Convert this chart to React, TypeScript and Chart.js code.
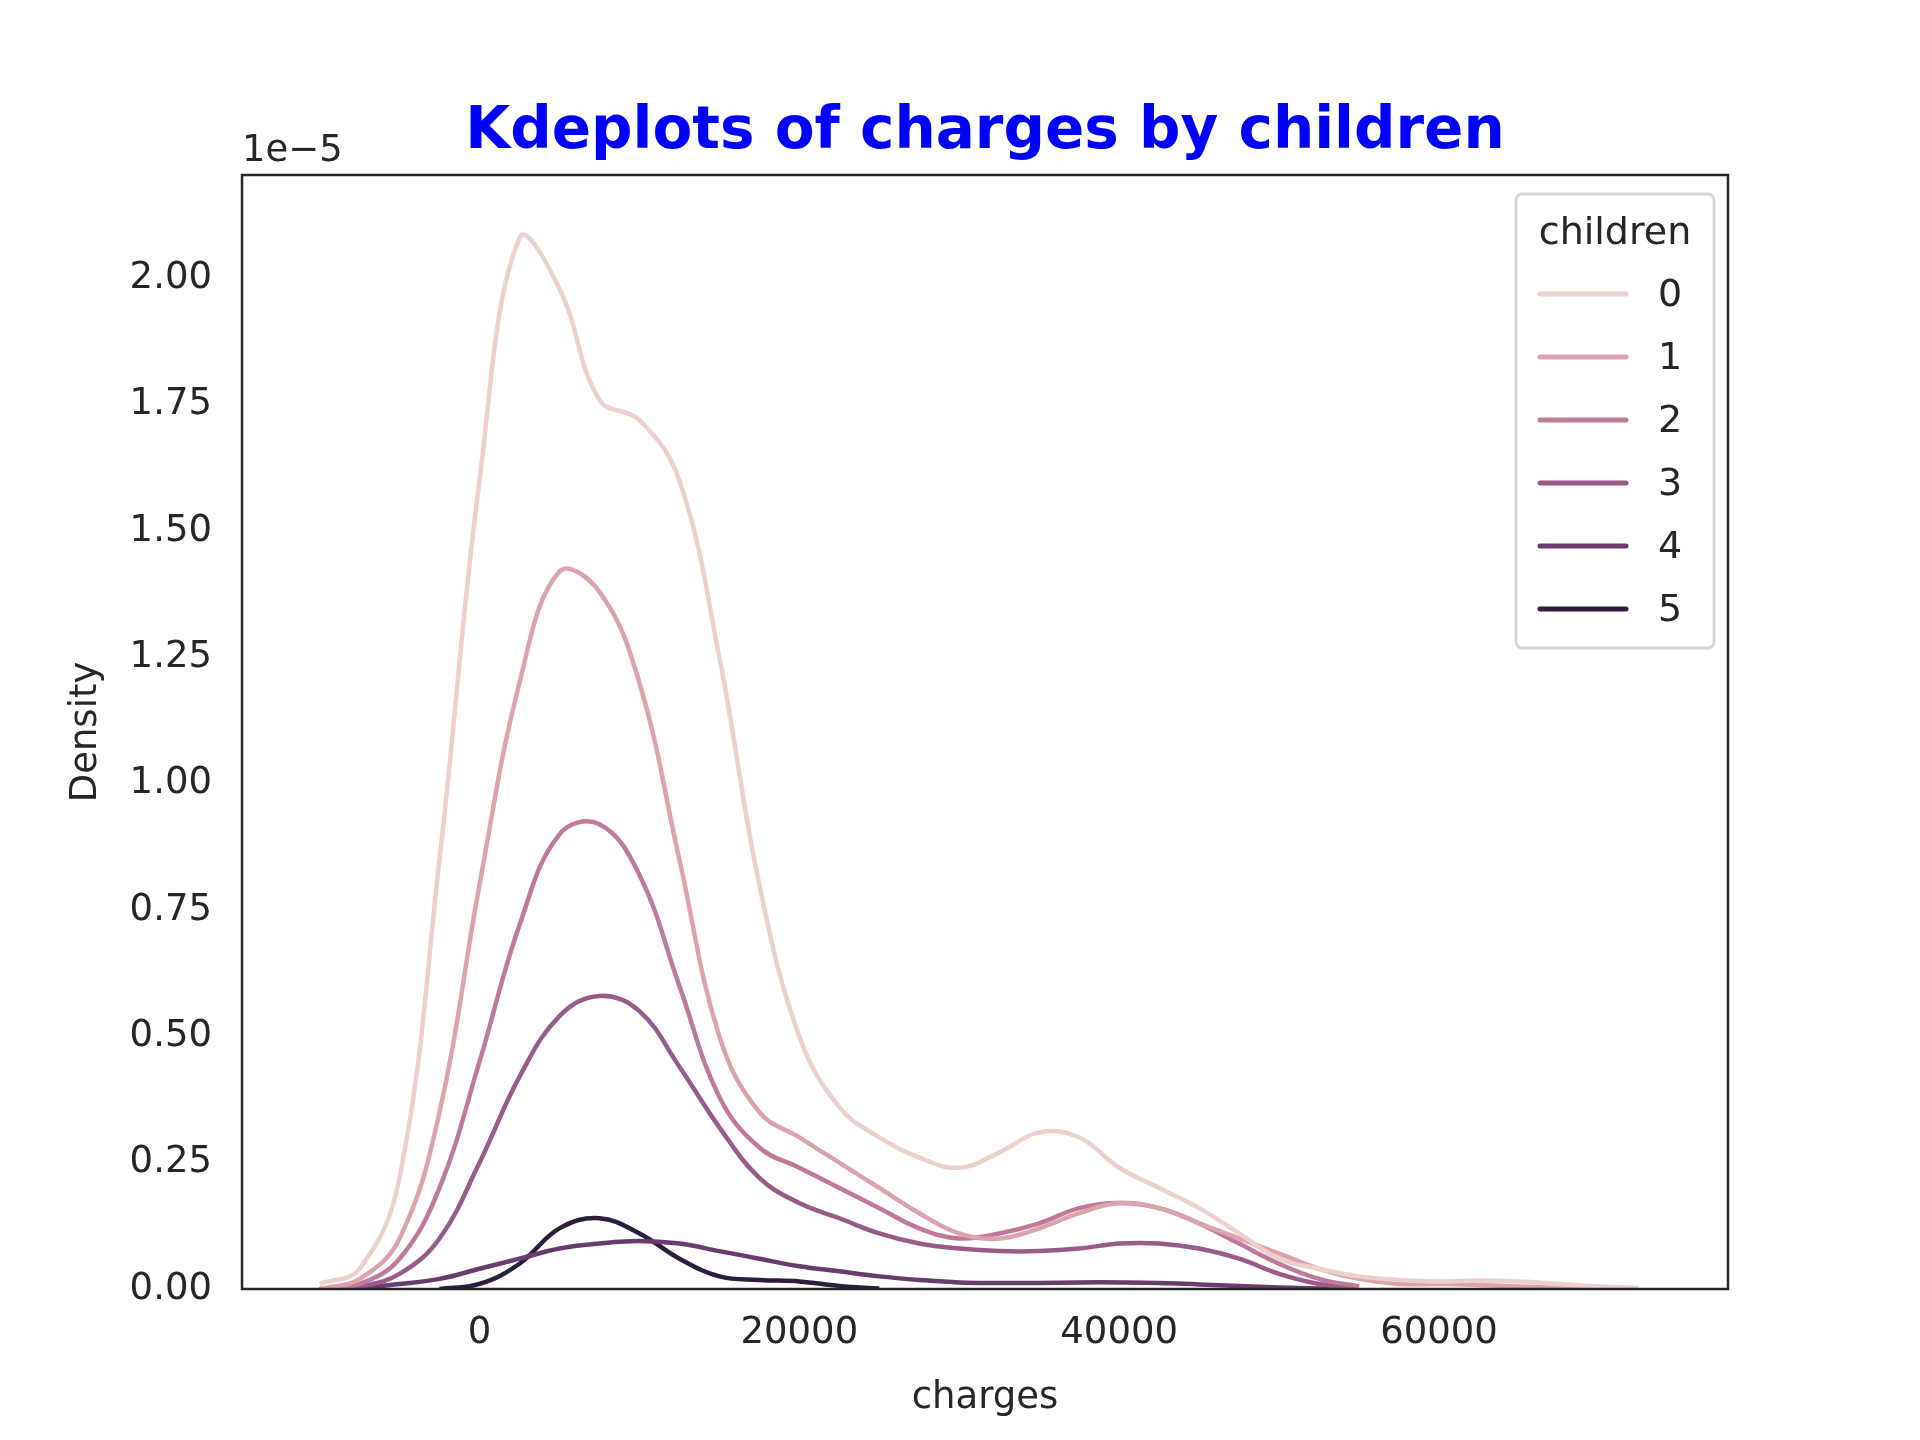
import { useEffect, useRef } from "react"
import { Chart, registerables } from "chart.js"

Chart.register(...registerables)

const CHARGES = [-10000, -7500, -5000, -2500, 0, 2500, 5000, 7500, 10000, 12500, 15000, 17500, 20000, 22500, 25000, 27500, 30000, 32500, 35000, 37500, 40000, 42500, 45000, 47500, 50000, 52500, 55000, 57500, 60000, 62500, 65000, 67500, 70000, 72500]

const KIDS0 = [0.01, 0.04, 0.22, 0.85, 1.6, 2.08, 1.98, 1.76, 1.72, 1.6, 1.25, 0.8, 0.5, 0.36, 0.3, 0.26, 0.24, 0.27, 0.31, 0.3, 0.24, 0.2, 0.16, 0.11, 0.06, 0.04, 0.025, 0.018, 0.015, 0.017, 0.015, 0.01, 0.005, 0.002]
const KIDS1 = [0.0, 0.02, 0.1, 0.35, 0.8, 1.2, 1.42, 1.38, 1.2, 0.85, 0.5, 0.35, 0.3, 0.25, 0.2, 0.15, 0.11, 0.1, 0.12, 0.15, 0.17, 0.16, 0.13, 0.1, 0.07, 0.04, 0.02, 0.01, 0.01, 0.008, 0.005, 0.002, 0.001, 0]
const KIDS2 = [0, 0.01, 0.06, 0.2, 0.45, 0.72, 0.9, 0.92, 0.82, 0.6, 0.38, 0.28, 0.24, 0.2, 0.16, 0.12, 0.1, 0.11, 0.13, 0.16, 0.17, 0.16, 0.13, 0.09, 0.05, 0.02, 0.005, null, null, null, null, null, null, null]
const KIDS3 = [0, 0.005, 0.03, 0.1, 0.25, 0.42, 0.54, 0.58, 0.55, 0.44, 0.32, 0.22, 0.17, 0.14, 0.11, 0.09, 0.08, 0.075, 0.075, 0.08, 0.09, 0.09, 0.08, 0.06, 0.03, 0.01, 0.002, null, null, null, null, null, null, null]
const KIDS4 = [null, 0.002, 0.01, 0.02, 0.04, 0.06, 0.08, 0.09, 0.095, 0.09, 0.075, 0.06, 0.045, 0.035, 0.025, 0.018, 0.013, 0.012, 0.012, 0.013, 0.013, 0.012, 0.009, 0.006, 0.003, 0.001, 0, null, null, null, null, null, null, null]
const KIDS5 = [null, null, null, 0, 0.01, 0.05, 0.12, 0.14, 0.11, 0.06, 0.025, 0.018, 0.015, 0.006, 0.001, null, null, null, null, null, null, null, null, null, null, null, null, null, null, null, null, null, null, null]

const SERIES = [KIDS0, KIDS1, KIDS2, KIDS3, KIDS4, KIDS5]
const LABELS = ["0", "1", "2", "3", "4", "5"]
const COLORS = ["#ecd0cb", "#dca3ad", "#c0799a", "#985b8a", "#6a3b6e", "#2d1e3e"]
const X_TICKS = [0, 20000, 40000, 60000]
const Y_TICKS = [0, 0.25, 0.5, 0.75, 1.0, 1.25, 1.5, 1.75, 2.0]

const FONT = "'DejaVu Sans', sans-serif"
const TEXT = "#262626"

const decor = {
  id: "decor",
  afterDraw(chart: Chart) {
    const { ctx, chartArea: a } = chart
    ctx.save()
    ctx.strokeStyle = TEXT
    ctx.lineWidth = 2.5
    ctx.strokeRect(a.left, a.top, a.right - a.left, a.bottom - a.top)

    ctx.fillStyle = "#0000ff"
    ctx.font = `bold 58px ${FONT}`
    ctx.textAlign = "center"
    ctx.textBaseline = "alphabetic"
    ctx.fillText("Kdeplots of charges by children", (a.left + a.right) / 2, 148)

    ctx.fillStyle = TEXT
    ctx.font = `37px ${FONT}`
    ctx.textAlign = "left"
    ctx.fillText("1e\u22125", a.left, 161)

    ctx.textAlign = "center"
    ctx.fillText("charges", (a.left + a.right) / 2, 1408)
    ctx.save()
    ctx.translate(96, (a.top + a.bottom) / 2)
    ctx.rotate(-Math.PI / 2)
    ctx.fillText("Density", 0, 0)
    ctx.restore()

    // legend box
    const bx = 1516, by = 194, bw = 198, bh = 454
    ctx.strokeStyle = "#d6d6d6"
    ctx.lineWidth = 3
    ctx.fillStyle = "rgba(255,255,255,0.8)"
    ctx.beginPath()
    ctx.roundRect(bx, by, bw, bh, 6)
    ctx.fill()
    ctx.stroke()
    ctx.fillStyle = TEXT
    ctx.textAlign = "center"
    ctx.font = `38px ${FONT}`
    ctx.fillText("children", bx + bw / 2, by + 50)
    LABELS.forEach((lab, i) => {
      const y = by + 100 + i * 63
      ctx.strokeStyle = COLORS[i]
      ctx.lineWidth = 5
      ctx.lineCap = "round"
      ctx.beginPath()
      ctx.moveTo(bx + 24, y)
      ctx.lineTo(bx + 110, y)
      ctx.stroke()
      ctx.fillStyle = TEXT
      ctx.textAlign = "left"
      ctx.textBaseline = "middle"
      ctx.fillText(lab, bx + 142, y + 2)
    })
    ctx.restore()
  },
}

export default function App() {
  const canvasRef = useRef<HTMLCanvasElement>(null)

  useEffect(() => {
    document.body.style.margin = "0"
    if (!canvasRef.current) return
    const chart = new Chart(canvasRef.current, {
      type: "line",
      data: {
        datasets: SERIES.map((vals, i) => ({
          label: LABELS[i],
          data: CHARGES.map((x, j) => ({ x, y: vals[j] })),
          borderColor: COLORS[i],
          borderWidth: 4.5,
          pointRadius: 0,
          tension: 0.4,
          fill: false,
          spanGaps: false,
        })),
      },
      options: {
        animation: false,
        responsive: false,
        devicePixelRatio: 1,
        layout: { padding: { top: 175, right: 192, left: 0, bottom: 0 } },
        plugins: { legend: { display: false }, tooltip: { enabled: false } },
        scales: {
          x: {
            type: "linear",
            min: -14850,
            max: 78070,
            grid: { display: false, drawTicks: false },
            border: { display: false },
            afterBuildTicks: (s: any) => { s.ticks = X_TICKS.map(v => ({ value: v })) },
            afterFit: (s: any) => { s.height = 151 },
            ticks: { color: TEXT, font: { size: 37, family: FONT }, padding: 22, callback: (v: any) => String(v), maxRotation: 0 },
          },
          y: {
            min: 0,
            max: 2.205,
            grid: { display: false, drawTicks: false },
            border: { display: false },
            afterBuildTicks: (s: any) => { s.ticks = Y_TICKS.map(v => ({ value: v })) },
            afterFit: (s: any) => { s.width = 242 },
            ticks: { color: TEXT, font: { size: 37, family: FONT }, padding: 30, callback: (v: any) => Number(v).toFixed(2) },
          },
        },
      },
      plugins: [decor],
    })
    return () => { chart.destroy() }
  }, [])

  return <canvas ref={canvasRef} width={1920} height={1440} style={{ display: "block" }} />
}
